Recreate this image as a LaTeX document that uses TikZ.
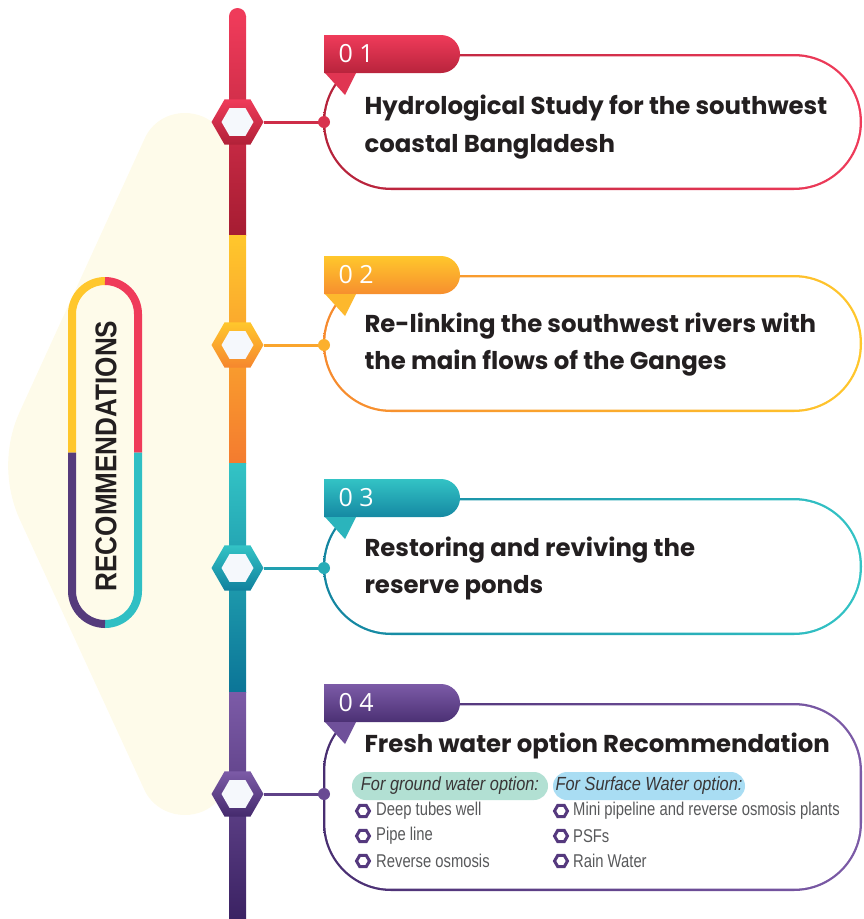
\documentclass[tikz,border=0pt]{standalone}
\usepackage{fontspec}
\setmainfont{Poppins}
\newfontfamily\numfont{Open Sans}
\newfontfamily\narrowfont{Liberation Sans}[FakeStretch=0.8]
\newfontfamily\pillfont{Liberation Sans}[FakeStretch=0.86]
\newfontfamily\capsfont{Liberation Sans}[FakeStretch=0.87]
\usepackage{tikz}
\usetikzlibrary{shapes.geometric}

\definecolor{redA}{HTML}{EF3B5A}
\definecolor{redB}{HTML}{A61C32}
\definecolor{yelA}{HTML}{FFC72C}
\definecolor{yelB}{HTML}{F47B2F}
\definecolor{teaA}{HTML}{33C3C5}
\definecolor{teaB}{HTML}{0B7597}
\definecolor{purA}{HTML}{7C5BA7}
\definecolor{purB}{HTML}{3B2263}
\definecolor{cream}{HTML}{FEFBEA}
\definecolor{ink}{HTML}{231F20}
\definecolor{greytxt}{HTML}{58595B}
\definecolor{mint}{HTML}{B2E0D3}
\definecolor{sky}{HTML}{A9DDF3}
\definecolor{pillpur}{HTML}{553B7C}
\definecolor{pillteal}{HTML}{30BFC4}
\definecolor{hexwhite}{HTML}{F5F8FC}

\tikzset{
  hexnode/.style={regular polygon, regular polygon sides=6, minimum size=52pt,
    inner sep=0pt, outer sep=0pt},
  hexin/.style={hexnode, minimum size=32pt, fill=hexwhite},
  bullet/.style={regular polygon, regular polygon sides=6, minimum size=13pt,
    inner sep=0pt, draw=purB!60!purA, line width=3pt},
  title/.style={anchor=west, align=left, text=ink,
    font=\fontsize{24.4}{37.5}\selectfont\bfseries},
  tagnum/.style={anchor=west, text=white, font=\numfont\fontsize{25}{28}\selectfont},
  pill/.style={rounded corners=14pt, minimum height=28pt, inner sep=0pt, text=ink!90,
    font=\pillfont\itshape\fontsize{19}{20}\selectfont},
  item/.style={anchor=west, inner sep=0pt, text=greytxt,
    font=\narrowfont\fontsize{18.5}{20}\selectfont},
}

\begin{document}
\begin{tikzpicture}[x=1pt, y=-1pt]
\useasboundingbox (0,0) rectangle (863,919);
% cream shape behind the label
\fill[cream] (230,158) .. controls (230,133) and (210,113) .. (185,113)
  .. controls (167,113) and (151,123) .. (144,140)
  -- (19.6,412) .. controls (4.2,446) and (4.4,486) .. (20,520)
  -- (144,789) .. controls (151,805) and (167,815) .. (185,815)
  .. controls (210,815) and (230,795) .. (230,770) -- cycle;
% label with four coloured quarters
\draw[line width=8pt, yelA] (72,452.5) -- (72,314) .. controls (72,295.8) and (86.8,281) .. (105,281);
\draw[line width=8pt, redA] (105,281) .. controls (123.2,281) and (138,295.8) .. (138,314) -- (138,452.5);
\draw[line width=8pt, pillteal] (138,452.5) -- (138,591) .. controls (138,609.2) and (123.2,624) .. (105,624);
\draw[line width=8pt, pillpur] (105,624) .. controls (86.8,624) and (72,609.2) .. (72,591) -- (72,452.5);
\node[rotate=90, text=ink, font=\capsfont\bfseries\fontsize{30}{30}\selectfont] (rec)
  at (106,456) {RECOMMENDATIONS};
% timeline bar
\fill[redA] (237.5,16.5) circle (8.5pt);
\foreach \ya/\yb/\ca/\cb in {16/235/redA/redB, 235/463/yelA/yelB, 463/692/teaA/teaB, 692/919/purA/purB}
  \shade[top color=\ca, bottom color=\cb] (229,\ya) rectangle (246,\yb);
% boxes, tags and hexagons
\foreach \n/\yt/\yb/\yc/\ca/\cb in {1/54/190/122/redA/redB, 2/275/412/345/yelA/yelB,
    3/498/635/568/teaA/teaB, 4/703/891/794/purA/purB}{
  \shade[left color=\cb!80!\ca, right color=\ca, rounded corners=68pt] (323,\yt) rectangle (862,\yb);
  \fill[white, rounded corners=65.7pt] (325.3,\yt+2.3) rectangle (859.7,\yb-2.3);
  \shade[top color=\ca, bottom color=\cb!75!\ca] (324,\yt-19) -- (441,\yt-19)
    .. controls (451.5,\yt-19) and (460,\yt-10.5) .. (460,\yt)
    .. controls (460,\yt+10.5) and (451.5,\yt+19) .. (441,\yt+19) -- (324,\yt+19) -- cycle;
  \fill[\ca!80!\cb] (325,\yt+19) -- (356,\yt+19) -- (345,\yt+41) -- cycle;
  \node[tagnum] (tag\n) at (335,\yt) {0 \n};
  \coordinate (dot\n) at (324,\yc);
  \node[hexnode, top color=\ca, bottom color=\cb!85!\ca] (hex\n) at (237.5,\yc) {};
  \node[hexin] (hexc\n) at (hex\n.center) {};
  \draw[line width=3pt, \ca!55!\cb] (hex\n.east) -- (dot\n);
  \fill[\ca!70!\cb] (dot\n) circle (6pt);
}
% titles
\node[title] (title1) at (361,127) {Hydrological Study for the southwest\\coastal Bangladesh};
\node[title] (title2) at (361,344.5) {Re-linking the southwest rivers with\\the main flows of the Ganges};
\node[title] (title3) at (361,568.5) {Restoring and reviving the\\reserve ponds};
\node[title] (title4) at (361,746) {Fresh water option Recommendation};
% options
\node[pill, fill=mint, minimum width=196pt] (ground) at (450,786) {For ground water option:};
\node[pill, fill=sky, minimum width=192pt] (surface) at (649,786) {For Surface Water option:};
\foreach \y/\txt [count=\i] in {811/Deep tubes well, 836/Pipe line, 861/Reverse osmosis}{
  \node[bullet] (gb\i) at (363,\y) {};
  \node[item] (gi\i) at (376,\y) {\txt};
}
\foreach \y/\txt [count=\i] in {811/Mini pipeline and reverse osmosis plants, 836/PSFs, 861/Rain Water}{
  \node[bullet] (sb\i) at (561,\y) {};
  \node[item] (si\i) at (573,\y) {\txt};
}
\end{tikzpicture}
\end{document}
